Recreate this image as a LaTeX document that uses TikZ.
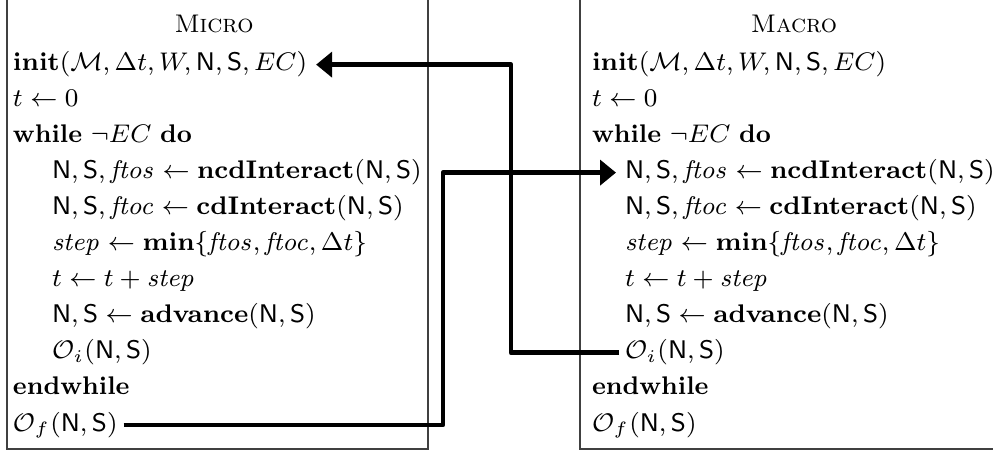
\RequirePackage{fix-cm}
\documentclass[tikz,border=0pt]{standalone}
\usetikzlibrary{arrows.meta}
\begin{document}
\begin{tikzpicture}[x=0.33333pt,y=-0.33333pt,
  every node/.style={font=\fontsize{8.5}{10.2}\selectfont},
  txt/.style={anchor=base west, inner sep=0pt, outer sep=0pt},
  ttl/.style={anchor=base, inner sep=0pt, outer sep=0pt},
  boxline/.style={draw=black!75, line width=0.4pt},
  conn/.style={line width=1.6pt, line join=round, -{Triangle[length=5.3pt,width=8.3pt]}}]
\path[use as bounding box] (0,0) rectangle (993,452);
\clip (0,0) rectangle (993,452);
\draw[boxline] (7,-10) rectangle (428,449);
\draw[boxline] (580,-10) rectangle (1010,449);
% left column
\node[ttl] (ltitle) at (214,33) {\textsc{Micro}};
\node[txt] (linit) at (13,71) {$\mathbf{init}(\mathcal{M},\Delta t,W,\mathsf{N},\mathsf{S},EC)$};
\node[txt] (lt0) at (13,107) {$t\leftarrow 0$};
\node[txt] (lwh) at (13,143) {\textbf{while} $\neg EC$ \textbf{do}};
\node[txt] (lncd) at (52,179) {$\mathsf{N},\mathsf{S},\mathit{ftos}\leftarrow\mathbf{ncdInteract}(\mathsf{N},\mathsf{S})$};
\node[txt] (lcd) at (52,215) {$\mathsf{N},\mathsf{S},\mathit{ftoc}\leftarrow\mathbf{cdInteract}(\mathsf{N},\mathsf{S})$};
\node[txt] (lstep) at (52,251) {$\mathit{step}\leftarrow\mathbf{min}\{\mathit{ftos},\mathit{ftoc},\Delta t\}$};
\node[txt] (ltt) at (52,287) {$t\leftarrow t+\mathit{step}$};
\node[txt] (ladv) at (52,323) {$\mathsf{N},\mathsf{S}\leftarrow\mathbf{advance}(\mathsf{N},\mathsf{S})$};
\node[txt] (lOi) at (52,359) {$\mathcal{O}_i(\mathsf{N},\mathsf{S})$};
\node[txt] (lew) at (13,395) {\textbf{endwhile}};
\node[txt] (lOf) at (13,431) {$\mathcal{O}_f(\mathsf{N},\mathsf{S})$};
% right column
\node[ttl] (rtitle) at (794,33) {\textsc{Macro}};
\node[txt] (rinit) at (592,71) {$\mathbf{init}(\mathcal{M},\Delta t,W,\mathsf{N},\mathsf{S},EC)$};
\node[txt] (rt0) at (592,107) {$t\leftarrow 0$};
\node[txt] (rwh) at (592,143) {\textbf{while} $\neg EC$ \textbf{do}};
\node[txt] (rncd) at (625,179) {$\mathsf{N},\mathsf{S},\mathit{ftos}\leftarrow\mathbf{ncdInteract}(\mathsf{N},\mathsf{S})$};
\node[txt] (rcd) at (625,215) {$\mathsf{N},\mathsf{S},\mathit{ftoc}\leftarrow\mathbf{cdInteract}(\mathsf{N},\mathsf{S})$};
\node[txt] (rstep) at (625,251) {$\mathit{step}\leftarrow\mathbf{min}\{\mathit{ftos},\mathit{ftoc},\Delta t\}$};
\node[txt] (rtt) at (625,287) {$t\leftarrow t+\mathit{step}$};
\node[txt] (radv) at (625,323) {$\mathsf{N},\mathsf{S}\leftarrow\mathbf{advance}(\mathsf{N},\mathsf{S})$};
\node[txt] (rOi) at (625,359) {$\mathcal{O}_i(\mathsf{N},\mathsf{S})$};
\node[txt] (rew) at (592,395) {\textbf{endwhile}};
\node[txt] (rOf) at (592,431) {$\mathcal{O}_f(\mathsf{N},\mathsf{S})$};
% connectors
\coordinate (xa) at (443,0);
\coordinate (xb) at (511,0);
\draw[conn, shorten <=2pt, shorten >=3pt] (lOf.east) -- (lOf.east -| xa) |- (rncd.west);
\draw[conn, shorten <=2pt, shorten >=3pt] (rOi.west) -- (rOi.west -| xb) |- (linit.east);
\end{tikzpicture}
\end{document}
